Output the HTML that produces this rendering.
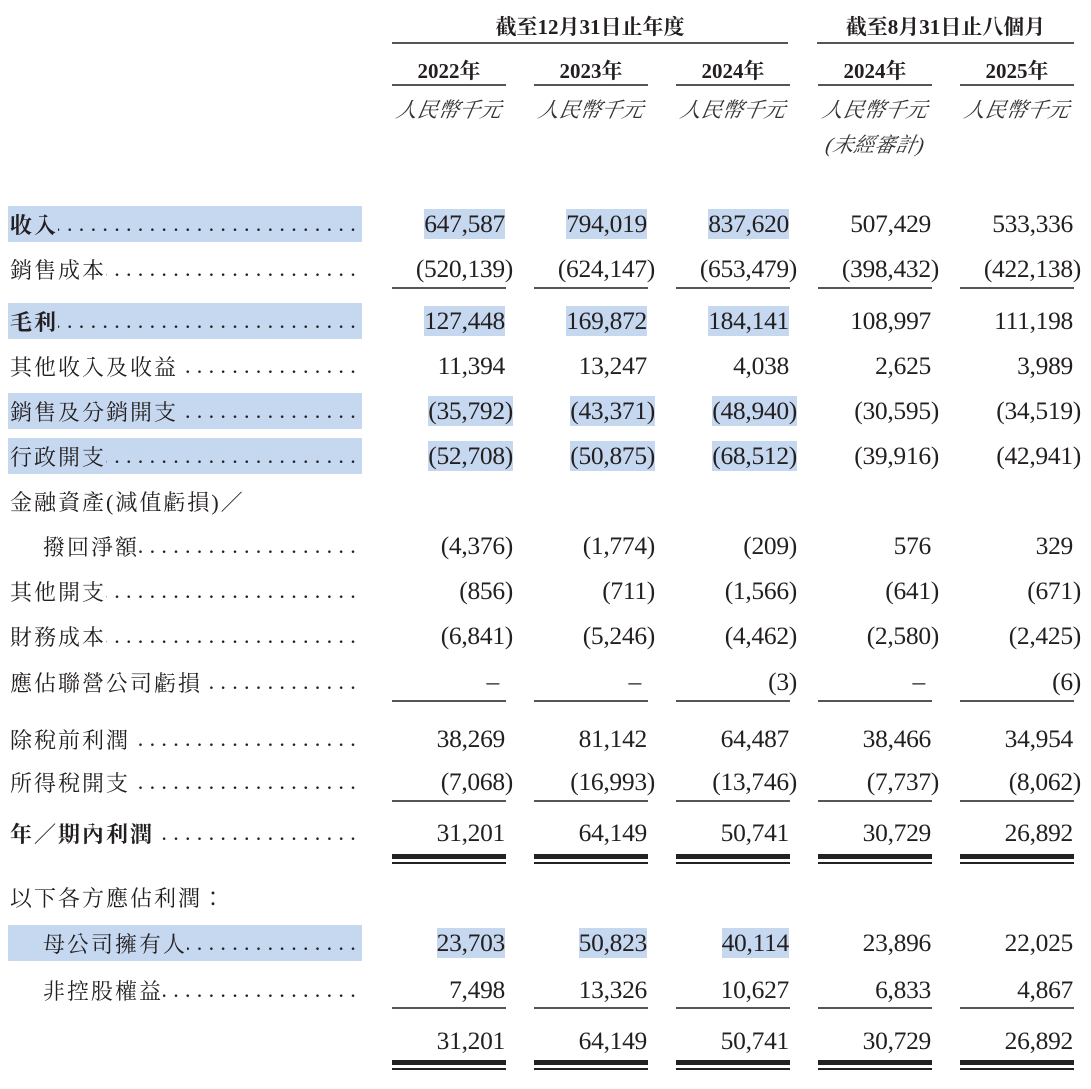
<!DOCTYPE html>
<html><head><meta charset="utf-8"><style>
body{margin:0;width:1091px;height:1089px;background:#fff;position:relative;overflow:hidden;color:#231f20;font-family:"Liberation Serif","Noto Serif CJK SC",serif}
.a{position:absolute}
.hl{background:#c5d8f0}
.lab{position:absolute;left:8px;width:354px;height:36px;display:flex;align-items:center;font-size:22px;font-family:"Liberation Serif","Noto Serif CJK TC","Noto Serif CJK SC",serif;white-space:nowrap;padding-left:2px;box-sizing:border-box}
.lab .t{flex:none;letter-spacing:2px}
.lab .d{flex:1;overflow:hidden;direction:rtl;white-space:nowrap;font-family:"Liberation Serif",serif;font-weight:normal;letter-spacing:6.3px;text-align:right;padding-left:4px}
.b{font-weight:bold}
.n{position:absolute;font-size:25.5px;line-height:30px;text-align:right;white-space:nowrap;height:36px;display:flex;align-items:center;justify-content:flex-end;letter-spacing:-0.3px}
.c1{left:380px;width:125px}.c2{left:522px;width:125px}.c3{left:664px;width:125px}.c4{left:806px;width:125px}.c5{left:948px;width:125px}
.p{margin-right:-8px}
.ln{position:absolute;height:2px;background:#555}
.hd{position:absolute;text-align:center;font-weight:bold;font-size:21px;font-family:"Liberation Serif","Noto Serif CJK SC",serif}
.it{position:absolute;text-align:center;font-style:italic;font-size:21px;color:#333;font-family:"Liberation Serif","Noto Serif CJK SC",serif;transform:skewX(-10deg)}
.dbl{position:absolute;height:10px;border-top:5px solid #222;box-sizing:border-box}
.dbl:after{content:"";position:absolute;left:0;right:0;top:3px;height:2px;background:#222}
</style></head><body>
<div class="hd" style="left:392px;width:396px;top:11px">截至12月31日止年度</div>
<div class="hd" style="left:817px;width:257px;top:11px">截至8月31日止八個月</div>
<div class="ln" style="left:392px;width:396px;top:42px"></div>
<div class="ln" style="left:817px;width:257px;top:42px"></div>
<div class="hd" style="left:392px;width:114px;top:55px">2022年</div>
<div class="hd" style="left:534px;width:114px;top:55px">2023年</div>
<div class="hd" style="left:676px;width:114px;top:55px">2024年</div>
<div class="hd" style="left:818px;width:114px;top:55px">2024年</div>
<div class="hd" style="left:960px;width:114px;top:55px">2025年</div>
<div class="ln" style="left:392px;width:114px;top:84px"></div>
<div class="ln" style="left:534px;width:114px;top:84px"></div>
<div class="ln" style="left:676px;width:114px;top:84px"></div>
<div class="ln" style="left:818px;width:114px;top:84px"></div>
<div class="ln" style="left:960px;width:114px;top:84px"></div>
<div class="it" style="left:392px;width:114px;top:94px">人民幣千元</div>
<div class="it" style="left:534px;width:114px;top:94px">人民幣千元</div>
<div class="it" style="left:676px;width:114px;top:94px">人民幣千元</div>
<div class="it" style="left:818px;width:114px;top:94px">人民幣千元</div>
<div class="it" style="left:960px;width:114px;top:94px">人民幣千元</div>
<div class="it" style="left:818px;width:114px;top:129px">(未經審計)</div>

<div class="lab hl b" style="top:206px"><span class="t">收入</span><span class="d">.....................................</span></div>
<div class="n c1" style="top:206px"><span class="hl">647,587</span></div>
<div class="n c2" style="top:206px"><span class="hl">794,019</span></div>
<div class="n c3" style="top:206px"><span class="hl">837,620</span></div>
<div class="n c4" style="top:206px">507,429</div>
<div class="n c5" style="top:206px">533,336</div>

<div class="lab" style="top:251px"><span class="t">銷售成本</span><span class="d">.....................................</span></div>
<div class="n c1" style="top:251px">(520,139<span class="p">)</span></div>
<div class="n c2" style="top:251px">(624,147<span class="p">)</span></div>
<div class="n c3" style="top:251px">(653,479<span class="p">)</span></div>
<div class="n c4" style="top:251px">(398,432<span class="p">)</span></div>
<div class="n c5" style="top:251px">(422,138<span class="p">)</span></div>
<div class="ln" style="left:392px;width:114px;top:287px"></div>
<div class="ln" style="left:534px;width:114px;top:287px"></div>
<div class="ln" style="left:676px;width:114px;top:287px"></div>
<div class="ln" style="left:818px;width:114px;top:287px"></div>
<div class="ln" style="left:960px;width:114px;top:287px"></div>

<div class="lab hl b" style="top:303px"><span class="t">毛利</span><span class="d">.....................................</span></div>
<div class="n c1" style="top:303px"><span class="hl">127,448</span></div>
<div class="n c2" style="top:303px"><span class="hl">169,872</span></div>
<div class="n c3" style="top:303px"><span class="hl">184,141</span></div>
<div class="n c4" style="top:303px">108,997</div>
<div class="n c5" style="top:303px">111,198</div>

<div class="lab" style="top:348px"><span class="t">其他收入及收益</span><span class="d">.....................................</span></div>
<div class="n c1" style="top:348px">11,394</div>
<div class="n c2" style="top:348px">13,247</div>
<div class="n c3" style="top:348px">4,038</div>
<div class="n c4" style="top:348px">2,625</div>
<div class="n c5" style="top:348px">3,989</div>

<div class="lab hl" style="top:393px"><span class="t">銷售及分銷開支</span><span class="d">.....................................</span></div>
<div class="n c1" style="top:393px"><span class="hl p">(35,792)</span></div>
<div class="n c2" style="top:393px"><span class="hl p">(43,371)</span></div>
<div class="n c3" style="top:393px"><span class="hl p">(48,940)</span></div>
<div class="n c4" style="top:393px">(30,595<span class="p">)</span></div>
<div class="n c5" style="top:393px">(34,519<span class="p">)</span></div>

<div class="lab hl" style="top:438px"><span class="t">行政開支</span><span class="d">.....................................</span></div>
<div class="n c1" style="top:438px"><span class="hl p">(52,708)</span></div>
<div class="n c2" style="top:438px"><span class="hl p">(50,875)</span></div>
<div class="n c3" style="top:438px"><span class="hl p">(68,512)</span></div>
<div class="n c4" style="top:438px">(39,916<span class="p">)</span></div>
<div class="n c5" style="top:438px">(42,941<span class="p">)</span></div>

<div class="lab" style="top:483px"><span class="t">金融資產(減值虧損)／</span></div>

<div class="lab" style="top:528px;padding-left:35px"><span class="t">撥回淨額</span><span class="d">.....................................</span></div>
<div class="n c1" style="top:528px">(4,376<span class="p">)</span></div>
<div class="n c2" style="top:528px">(1,774<span class="p">)</span></div>
<div class="n c3" style="top:528px">(209<span class="p">)</span></div>
<div class="n c4" style="top:528px">576</div>
<div class="n c5" style="top:528px">329</div>

<div class="lab" style="top:573px"><span class="t">其他開支</span><span class="d">.....................................</span></div>
<div class="n c1" style="top:573px">(856<span class="p">)</span></div>
<div class="n c2" style="top:573px">(711<span class="p">)</span></div>
<div class="n c3" style="top:573px">(1,566<span class="p">)</span></div>
<div class="n c4" style="top:573px">(641<span class="p">)</span></div>
<div class="n c5" style="top:573px">(671<span class="p">)</span></div>

<div class="lab" style="top:618px"><span class="t">財務成本</span><span class="d">.....................................</span></div>
<div class="n c1" style="top:618px">(6,841<span class="p">)</span></div>
<div class="n c2" style="top:618px">(5,246<span class="p">)</span></div>
<div class="n c3" style="top:618px">(4,462<span class="p">)</span></div>
<div class="n c4" style="top:618px">(2,580<span class="p">)</span></div>
<div class="n c5" style="top:618px">(2,425<span class="p">)</span></div>

<div class="lab" style="top:664px"><span class="t">應佔聯營公司虧損</span><span class="d">.....................................</span></div>
<div class="n c1" style="top:664px">–&nbsp;</div>
<div class="n c2" style="top:664px">–&nbsp;</div>
<div class="n c3" style="top:664px">(3<span class="p">)</span></div>
<div class="n c4" style="top:664px">–&nbsp;</div>
<div class="n c5" style="top:664px">(6<span class="p">)</span></div>
<div class="ln" style="left:392px;width:114px;top:700px"></div>
<div class="ln" style="left:534px;width:114px;top:700px"></div>
<div class="ln" style="left:676px;width:114px;top:700px"></div>
<div class="ln" style="left:818px;width:114px;top:700px"></div>
<div class="ln" style="left:960px;width:114px;top:700px"></div>

<div class="lab" style="top:721px"><span class="t">除稅前利潤</span><span class="d">.....................................</span></div>
<div class="n c1" style="top:721px">38,269</div>
<div class="n c2" style="top:721px">81,142</div>
<div class="n c3" style="top:721px">64,487</div>
<div class="n c4" style="top:721px">38,466</div>
<div class="n c5" style="top:721px">34,954</div>

<div class="lab" style="top:764px"><span class="t">所得稅開支</span><span class="d">.....................................</span></div>
<div class="n c1" style="top:764px">(7,068<span class="p">)</span></div>
<div class="n c2" style="top:764px">(16,993<span class="p">)</span></div>
<div class="n c3" style="top:764px">(13,746<span class="p">)</span></div>
<div class="n c4" style="top:764px">(7,737<span class="p">)</span></div>
<div class="n c5" style="top:764px">(8,062<span class="p">)</span></div>
<div class="ln" style="left:392px;width:114px;top:800px"></div>
<div class="ln" style="left:534px;width:114px;top:800px"></div>
<div class="ln" style="left:676px;width:114px;top:800px"></div>
<div class="ln" style="left:818px;width:114px;top:800px"></div>
<div class="ln" style="left:960px;width:114px;top:800px"></div>

<div class="lab b" style="top:815px"><span class="t">年／期內利潤</span><span class="d">.....................................</span></div>
<div class="n c1" style="top:815px">31,201</div>
<div class="n c2" style="top:815px">64,149</div>
<div class="n c3" style="top:815px">50,741</div>
<div class="n c4" style="top:815px">30,729</div>
<div class="n c5" style="top:815px">26,892</div>
<div class="dbl" style="left:392px;width:114px;top:854px"></div>
<div class="dbl" style="left:534px;width:114px;top:854px"></div>
<div class="dbl" style="left:676px;width:114px;top:854px"></div>
<div class="dbl" style="left:818px;width:114px;top:854px"></div>
<div class="dbl" style="left:960px;width:114px;top:854px"></div>

<div class="lab" style="top:879px"><span class="t">以下各方應佔利潤：</span></div>

<div class="lab hl" style="top:925px;padding-left:35px"><span class="t">母公司擁有人</span><span class="d">.....................................</span></div>
<div class="n c1" style="top:925px"><span class="hl">23,703</span></div>
<div class="n c2" style="top:925px"><span class="hl">50,823</span></div>
<div class="n c3" style="top:925px"><span class="hl">40,114</span></div>
<div class="n c4" style="top:925px">23,896</div>
<div class="n c5" style="top:925px">22,025</div>

<div class="lab" style="top:972px;padding-left:35px"><span class="t">非控股權益</span><span class="d">.....................................</span></div>
<div class="n c1" style="top:972px">7,498</div>
<div class="n c2" style="top:972px">13,326</div>
<div class="n c3" style="top:972px">10,627</div>
<div class="n c4" style="top:972px">6,833</div>
<div class="n c5" style="top:972px">4,867</div>
<div class="ln" style="left:392px;width:114px;top:1007px"></div>
<div class="ln" style="left:534px;width:114px;top:1007px"></div>
<div class="ln" style="left:676px;width:114px;top:1007px"></div>
<div class="ln" style="left:818px;width:114px;top:1007px"></div>
<div class="ln" style="left:960px;width:114px;top:1007px"></div>

<div class="n c1" style="top:1023px">31,201</div>
<div class="n c2" style="top:1023px">64,149</div>
<div class="n c3" style="top:1023px">50,741</div>
<div class="n c4" style="top:1023px">30,729</div>
<div class="n c5" style="top:1023px">26,892</div>
<div class="dbl" style="left:392px;width:114px;top:1060px"></div>
<div class="dbl" style="left:534px;width:114px;top:1060px"></div>
<div class="dbl" style="left:676px;width:114px;top:1060px"></div>
<div class="dbl" style="left:818px;width:114px;top:1060px"></div>
<div class="dbl" style="left:960px;width:114px;top:1060px"></div>
</body></html>
